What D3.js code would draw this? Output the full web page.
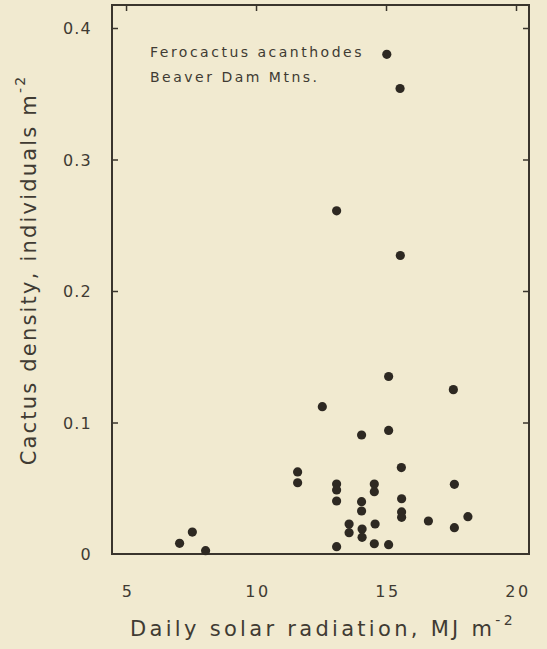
<!DOCTYPE html>
<html>
<head>
<meta charset="utf-8">
<script src="https://cdn.jsdelivr.net/npm/d3@7"></script>
<style>
  html, body { margin: 0; padding: 0; background: #f1ead0; }
  svg { display: block; }
  text { font-family: "DejaVu Sans", sans-serif; font-style: normal; fill: #403b33; font-weight: 400; }
</style>
</head>
<body>
<script>
// Data
const radiation = [15.03, 15.54, 13.1, 15.55, 15.1, 17.59, 12.55, 14.06, 15.1, 15.59,
                   11.6, 11.6, 13.1, 13.1, 13.1, 14.55, 14.55, 17.63, 14.06, 14.06,
                   15.6, 15.6, 15.6, 16.63, 18.15, 17.63, 13.58, 13.58, 14.08, 14.08,
                   14.58, 13.1, 14.55, 15.1, 7.06, 7.55, 8.06];
const density   = [0.380, 0.354, 0.261, 0.227, 0.135, 0.125, 0.112, 0.0905, 0.094, 0.0657,
                   0.0624, 0.0542, 0.0532, 0.0487, 0.0403, 0.0532, 0.0474, 0.053, 0.0398, 0.0327,
                   0.042, 0.032, 0.0279, 0.0251, 0.0284, 0.020, 0.0228, 0.0162, 0.019, 0.0127,
                   0.0228, 0.0056, 0.0078, 0.0071, 0.0081, 0.0167, 0.0025];
const xTicks = [5, 10, 15, 20];
const yTicks = [0, 0.1, 0.2, 0.3, 0.4];
const yTickLabels = ["0", "0.1", "0.2", "0.3", "0.4"];
const annotation = ["Ferocactus acanthodes", "Beaver Dam Mtns."];

const W = 547, H = 649;
const mLeft = 112, mRight = 529, mTop = 5, mBottom = 554;

const svg = d3.select("body").append("svg").attr("width", W).attr("height", H);

const x = d3.scaleLinear().domain([4.46, 20.5]).range([mLeft, mRight]);
const y = d3.scaleLinear().domain([0, 0.4]).range([mBottom, 28]);

const ink = "#3a352d";
const tickLen = 6;

const gTop = svg.append("g").attr("transform", `translate(0,${mTop})`)
  .call(d3.axisBottom(x).tickValues(xTicks).tickSize(tickLen).tickFormat(""));
const gLeft = svg.append("g").attr("transform", `translate(${mLeft},0)`)
  .call(d3.axisRight(y).tickValues(yTicks.filter(v => v > 0)).tickSize(tickLen).tickFormat(""));
const gRight = svg.append("g").attr("transform", `translate(${mRight},0)`)
  .call(d3.axisLeft(y).tickValues(yTicks.filter(v => v > 0)).tickSize(tickLen).tickFormat(""));
[gTop, gLeft, gRight].forEach(g => {
  g.select(".domain").remove();
  g.selectAll(".tick line").attr("stroke", ink).attr("stroke-width", 1.5);
});

svg.append("rect")
  .attr("x", mLeft).attr("y", mTop)
  .attr("width", mRight - mLeft).attr("height", mBottom - mTop)
  .attr("fill", "none").attr("stroke", ink).attr("stroke-width", 2);

svg.append("g").selectAll("text").data(xTicks).join("text")
  .attr("x", d => x(d) + 2).attr("y", 597)
  .attr("text-anchor", "middle")
  .attr("font-size", 16)
  .attr("letter-spacing", 2.5)
  .text(d => String(d));

svg.append("g").selectAll("text").data(yTicks).join("text")
  .attr("x", 92).attr("y", d => y(d) + 6)
  .attr("text-anchor", "end")
  .attr("font-size", 16)
  .attr("letter-spacing", 1.2)
  .text((d, i) => yTickLabels[i]);

const xt = svg.append("text")
  .attr("x", 323).attr("y", 636)
  .attr("text-anchor", "middle")
  .attr("font-size", 21)
  .attr("letter-spacing", 3.3);
xt.append("tspan").text("Daily solar radiation, MJ m");
xt.append("tspan").attr("dy", -11).attr("font-size", 14).text("-2");

const yt = svg.append("text")
  .attr("transform", "translate(36,270) rotate(-90)")
  .attr("text-anchor", "middle")
  .attr("font-size", 21)
  .attr("letter-spacing", 2.2);
yt.append("tspan").text("Cactus density, individuals m");
yt.append("tspan").attr("dy", -11).attr("font-size", 14).text("-2");

svg.append("g").selectAll("text").data(annotation).join("text")
  .attr("x", 150).attr("y", (d, i) => 57 + i * 25)
  .attr("font-size", 14)
  .attr("letter-spacing", 2.5)
  .text(d => d);

svg.append("g").selectAll("circle").data(radiation).join("circle")
  .attr("cx", d => x(d))
  .attr("cy", (d, i) => y(density[i]))
  .attr("r", 4.6)
  .attr("fill", "#2e2922");
</script>
</body>
</html>
